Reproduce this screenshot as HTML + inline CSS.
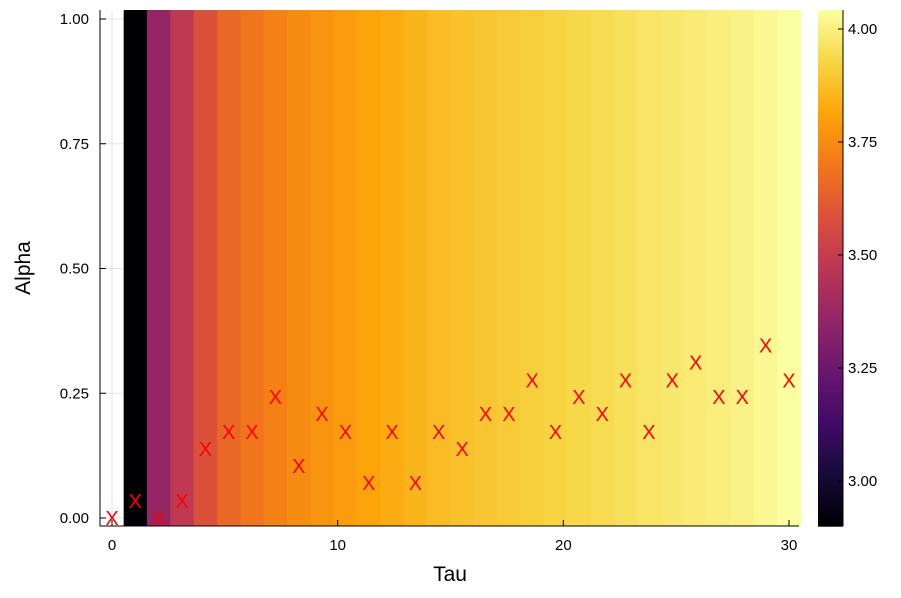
<!DOCTYPE html>
<html><head><meta charset="utf-8"><style>
body{margin:0;background:#fff;}
svg text{font-family:"Liberation Sans","DejaVu Sans",sans-serif;fill:#000;}
</style></head><body>
<svg id="chart" width="901" height="593" xmlns="http://www.w3.org/2000/svg">
<g id="grid"></g>
<g id="heat"></g>
<g id="axes"></g>
<g id="pts"></g>
<g id="cbar"></g>
<text x="450" y="581" font-size="21" text-anchor="middle">Tau</text>
<text transform="translate(30,268) rotate(-90)" font-size="21" text-anchor="middle">Alpha</text>
</svg>
<script>
const heatValues=[null,2.90,3.36,3.48,3.58,3.65,3.69,3.72,3.75,3.77,3.79,3.81,3.83,3.85,3.865,3.88,3.89,3.90,3.91,3.92,3.93,3.94,3.955,3.965,3.975,3.985,3.995,4.005,4.02,4.04];
const pointAlpha=[0,0.034,0,0.034,0.138,0.172,0.172,0.242,0.104,0.208,0.172,0.07,0.172,0.07,0.172,0.138,0.208,0.208,0.276,0.172,0.242,0.208,0.276,0.172,0.276,0.312,0.242,0.242,0.346,0.276];
const xTicks=[0,10,20,30];
const yTicks=[0,0.25,0.5,0.75,1.0];
const yTickLabels=["0.00","0.25","0.50","0.75","1.00"];
const cTicks=[3.00,3.25,3.50,3.75,4.00];
const cTickLabels=["3.00","3.25","3.50","3.75","4.00"];
const cMin=2.90,cMax=4.042;

const NS="http://www.w3.org/2000/svg";
function mk(p,t,a){const e=document.createElementNS(NS,t);for(const k in a)e.setAttribute(k,a[k]);p.appendChild(e);return e;}
const X=v=>112+v*(677/30);
const Y=v=>518-v*499;
const stops=[[0,[0,0,4]],[0.1,[22,11,57]],[0.2,[66,10,104]],[0.3,[106,23,110]],[0.4,[147,38,103]],[0.5,[188,55,84]],[0.6,[221,81,58]],[0.7,[243,120,25]],[0.8,[252,165,10]],[0.9,[246,215,70]],[1,[252,255,164]]];
function inferno(t){t=Math.max(0,Math.min(1,t));for(let i=1;i<stops.length;i++){if(t<=stops[i][0]){const a=stops[i-1],b=stops[i];const f=(t-a[0])/(b[0]-a[0]);const c=a[1].map((v,j)=>Math.round(v+(b[1][j]-v)*f));return `rgb(${c})`;}}return 'rgb(252,255,164)';}
const n=heatValues.length, step=30/(n-1);
const heat=document.getElementById('heat');
heatValues.forEach((v,i)=>{if(v===null)return;const t=i*step;
 const r=mk(heat,'rect',{x:X(t-step/2),y:10,width:X(t+step/2)-X(t-step/2)+0.6,height:516,fill:inferno((v-cMin)/(cMax-cMin))});
 
 
});
const grid=document.getElementById('grid');
xTicks.forEach(t=>mk(grid,'line',{x1:X(t),x2:X(t),y1:10,y2:526,stroke:'#000','stroke-opacity':0.1}));
yTicks.forEach(t=>mk(grid,'line',{x1:100,x2:799,y1:Y(t),y2:Y(t),stroke:'#000','stroke-opacity':0.1}));
const axes=document.getElementById('axes');
mk(axes,'line',{x1:100,x2:100,y1:10,y2:526,stroke:'#000'});
mk(axes,'line',{x1:100,x2:799,y1:526,y2:526,stroke:'#000'});
xTicks.forEach(t=>{mk(axes,'line',{x1:X(t),x2:X(t),y1:526,y2:520,stroke:'#000'});
 const e=mk(axes,'text',{x:X(t),y:550,'font-size':15,'text-anchor':'middle'});e.textContent=t;
 
 });
yTicks.forEach((t,i)=>{mk(axes,'line',{x1:100,x2:106,y1:Y(t),y2:Y(t),stroke:'#000'});
 const e=mk(axes,'text',{x:89,y:Y(t)+5,'font-size':15,'text-anchor':'end'});e.textContent=yTickLabels[i];
 
 });
const pts=document.getElementById('pts');
pointAlpha.forEach((a,i)=>{const t=i*30/(pointAlpha.length-1);
 const e=mk(pts,'text',{x:X(t),y:Y(a)+7,'font-size':20,'text-anchor':'middle',style:'fill:#ff0000'});e.textContent='X';
 
 });
const cb=document.getElementById('cbar');
const CY=v=>481-(v-3)*452;
for(let k=0;k<200;k++){const v0=cMin+(cMax-cMin)*k/200,v1=cMin+(cMax-cMin)*(k+1)/200;
 mk(cb,'rect',{x:818,y:CY(v1),width:25,height:CY(v0)-CY(v1)+0.5,fill:inferno((v0-cMin)/(cMax-cMin))});}
mk(cb,'line',{x1:843,x2:843,y1:10,y2:526,stroke:'#000'});
cTicks.forEach((t,i)=>{mk(cb,'line',{x1:843,x2:838,y1:CY(t),y2:CY(t),stroke:'#000'});
 const e=mk(cb,'text',{x:848,y:CY(t)+5,'font-size':15});e.textContent=cTickLabels[i];
 
 });
</script>
</body></html>
